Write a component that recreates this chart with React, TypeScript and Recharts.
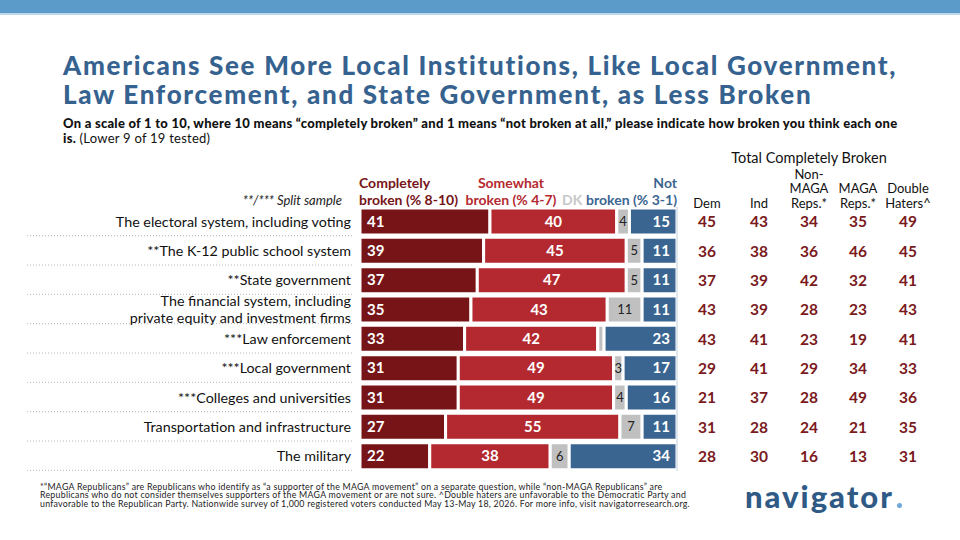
import React from "react";
import { BarChart, Bar, XAxis, YAxis, LabelList } from "recharts";

// rows, top to bottom
const categories = [
  "The electoral system, including voting",
  "**The K-12 public school system",
  "**State government",
  "The financial system, including\nprivate equity and investment firms",
  "***Law enforcement",
  "***Local government",
  "***Colleges and universities",
  "Transportation and infrastructure",
  "The military",
];
const completely = [41, 39, 37, 35, 33, 31, 31, 27, 22];
const somewhat = [40, 45, 47, 43, 42, 49, 49, 55, 38];
const dk = [4, 5, 5, 11, 2, 3, 4, 7, 6];
const notBroken = [15, 11, 11, 11, 23, 17, 16, 11, 34];

// Total Completely Broken by group
const groupNames = ["Dem", "Ind", "Non-\nMAGA\nReps.*", "MAGA\nReps.*", "Double\nHaters^"];
const dem = [45, 36, 37, 43, 43, 29, 21, 31, 28];
const ind = [43, 38, 39, 39, 41, 41, 37, 28, 30];
const nonMaga = [34, 36, 42, 28, 23, 29, 28, 24, 16];
const maga = [35, 46, 32, 23, 19, 34, 49, 21, 13];
const doubleHaters = [49, 45, 41, 43, 41, 33, 36, 35, 31];
const groupValues = [dem, ind, nonMaga, maga, doubleHaters];
const groupX = [707, 759, 809, 858, 908];

const titleLines = [
  "Americans See More Local Institutions, Like Local Government,",
  "Law Enforcement, and State Government, as Less Broken",
];
const footnoteLines = [
  "*“MAGA Republicans” are Republicans who identify as “a supporter of the MAGA movement” on a separate question, while “non-MAGA Republicans” are",
  "Republicans who do not consider themselves supporters of the MAGA movement or are not sure. ^Double haters are unfavorable to the Democratic Party and",
  "unfavorable to the Republican Party. Nationwide survey of 1,000 registered voters conducted May 13-May 18, 2026. For more info, visit navigatorresearch.org.",
];

const data = categories.map((name, i) => ({
  name,
  completely: completely[i],
  somewhat: somewhat[i],
  dk: dk[i],
  notBroken: notBroken[i],
}));

const FONT = "Lato, 'Open Sans', sans-serif";
const DARK_RED = "#761417";
const RED = "#b4292f";
const GRAY = "#c0c0c0";
const BLUE = "#3b6591";
const TITLE_BLUE = "#36628f";

const CategoryTick = (props: any) => {
  const { y, payload } = props;
  const lines = String(payload.value).split("\n");
  const first = lines.length > 1 ? -8.5 + 5 : 5;
  return (
    <g>
      <text x={351} y={y} textAnchor="end" fontSize={14.3} fill="#111" fontFamily={FONT}>
        {lines.map((l, i) => (
          <tspan key={i} x={351} dy={i === 0 ? first : 17}>
            {l}
          </tspan>
        ))}
      </text>
      <line x1={27} x2={352} y1={y + 14} y2={y + 14} stroke="#b5b5b5" strokeDasharray="1 2" />
    </g>
  );
};

const GroupTick = (props: any) => {
  const { y, payload } = props;
  const i = categories.indexOf(payload.value);
  return (
    <g>
      {groupValues.map((vals, k) => (
        <text
          key={k}
          x={groupX[k]}
          y={y + 5.5}
          textAnchor="middle"
          fontSize={15.5}
          fontWeight={700}
          fill="#7a1a20"
          fontFamily={FONT}
        >
          {vals[i]}
        </text>
      ))}
    </g>
  );
};

const abs = (s: React.CSSProperties): React.CSSProperties => ({
  position: "absolute",
  whiteSpace: "nowrap",
  fontFamily: FONT,
  ...s,
});

export default function App() {
  return (
    <div style={{ position: "absolute", left: 0, top: 0, width: 960, height: 540, background: "#fff", overflow: "hidden" }}>
      <div style={abs({ left: 0, top: 0, width: 960, height: 13, background: "#5b9bca" })} />
      <div style={abs({ left: 0, top: 13, width: 960, height: 2, background: "#bcd7ec" })} />

      {titleLines.map((t, i) => (
        <div
          key={i}
          style={abs({
            left: 63,
            top: 51.3 + i * 28.6,
            height: 28.6,
            fontSize: 26,
            lineHeight: "28.6px",
            fontWeight: 900,
            letterSpacing: 1.7,
            color: TITLE_BLUE,
          })}
        >
          {t}
        </div>
      ))}
      <div style={abs({ left: 63, top: 115.5, height: 15, fontSize: 13, lineHeight: "15px", color: "#111", letterSpacing: 0.25, fontWeight: 900 })}>
        On a scale of 1 to 10, where 10 means “completely broken” and 1 means “not broken at all,” please indicate how broken you think each one
      </div>
      <div style={abs({ left: 63, top: 130.5, height: 15, fontSize: 13, lineHeight: "15px", color: "#111", letterSpacing: 0.25 })}>
        <span style={{ fontWeight: 900 }}>is.</span> (Lower 9 of 19 tested)
      </div>

      <div style={abs({ left: 0, top: 0 })}>
        <BarChart
          width={960}
          height={540}
          layout="vertical"
          data={data}
          margin={{ top: 207, right: 0, bottom: 69, left: 0 }}
          barSize={27}
        >
          <XAxis type="number" domain={[0, 100]} hide />
          <YAxis
            yAxisId="left"
            type="category"
            dataKey="name"
            width={360}
            axisLine={false}
            tickLine={false}
            tick={<CategoryTick />}
            interval={0}
          />
          <YAxis
            yAxisId="right"
            orientation="right"
            type="category"
            dataKey="name"
            width={283}
            axisLine={{ stroke: "#d3deea", strokeWidth: 1.5 }}
            tickLine={false}
            tick={<GroupTick />}
            interval={0}
          />
          <Bar yAxisId="left" dataKey="completely" stackId="a" fill={DARK_RED} stroke="#fff" strokeWidth={3} isAnimationActive={false}>
            <LabelList dataKey="completely" position="insideLeft" offset={7} fill="#fff" fontSize={15} fontWeight={700} fontFamily={FONT} />
          </Bar>
          <Bar yAxisId="left" dataKey="somewhat" stackId="a" fill={RED} stroke="#fff" strokeWidth={3} isAnimationActive={false}>
            <LabelList dataKey="somewhat" position="center" fill="#fff" fontSize={15} fontWeight={700} fontFamily={FONT} />
          </Bar>
          <Bar yAxisId="left" dataKey="dk" stackId="a" fill={GRAY} stroke="#fff" strokeWidth={3} isAnimationActive={false}>
            <LabelList
              dataKey="dk"
              position="center"
              fill="#222"
              fontSize={13}
              fontFamily={FONT}
              formatter={(v: any) => (Number(v) >= 3 ? v : "")}
            />
          </Bar>
          <Bar yAxisId="left" dataKey="notBroken" stackId="a" fill={BLUE} stroke="#fff" strokeWidth={3} isAnimationActive={false}>
            <LabelList dataKey="notBroken" position="insideRight" offset={7} fill="#fff" fontSize={15} fontWeight={700} fontFamily={FONT} />
          </Bar>
        </BarChart>
      </div>

      {/* series headers */}
      <div style={abs({ left: 359, top: 175, fontSize: 14, lineHeight: "16.5px", fontWeight: 700, color: DARK_RED })}>
        Completely
        <br />
        broken (% 8-10)
      </div>
      <div style={abs({ left: 511, top: 175, transform: "translateX(-50%)", textAlign: "center", fontSize: 14, lineHeight: "16.5px", fontWeight: 700, color: RED })}>
        Somewhat
        <br />
        broken (% 4-7)
      </div>
      <div style={abs({ left: 562, top: 191.5, fontSize: 14, lineHeight: "16.5px", fontWeight: 700, color: "#c8c8c8" })}>DK</div>
      <div style={abs({ right: 960 - 677, top: 175, textAlign: "right", fontSize: 14, lineHeight: "16.5px", fontWeight: 700, color: BLUE })}>
        Not
        <br />
        broken (% 3-1)
      </div>
      <div style={abs({ right: 960 - 342, top: 192, fontSize: 13, lineHeight: "16px", fontStyle: "italic", color: "#222" })}>
        **/*** Split sample
      </div>

      {/* group headers */}
      <div style={abs({ left: 809, top: 149, transform: "translateX(-50%)", fontSize: 14.5, lineHeight: "18px", color: "#111" })}>
        Total Completely Broken
      </div>
      {groupNames.map((g, k) => (
        <div
          key={g}
          style={abs({
            left: groupX[k],
            bottom: 540 - 210,
            transform: "translateX(-50%)",
            textAlign: "center",
            fontSize: 13,
            lineHeight: "14.5px",
            color: "#111",
          })}
        >
          {g.split("\n").map((l, i) => (
            <div key={i}>{l}</div>
          ))}
        </div>
      ))}

      {/* footnote */}
      {footnoteLines.map((t, i) => (
        <div
          key={i}
          style={abs({
            left: 40,
            top: 482.6 + i * 8.8,
            height: 8.8,
            fontSize: 8.8,
            lineHeight: "8.8px",
            letterSpacing: 0.25,
            color: "#222",
          })}
        >
          {t}
        </div>
      ))}

      {/* logo */}
      <div style={abs({ left: 745, top: 477.5, fontSize: 31, lineHeight: "36px", fontWeight: 900, color: "#2f5a86", letterSpacing: 2 })}>
        navigator
      </div>
      <div style={abs({ left: 897, top: 503, width: 5, height: 5, borderRadius: 3, background: "#6ea7d8" })} />
    </div>
  );
}
